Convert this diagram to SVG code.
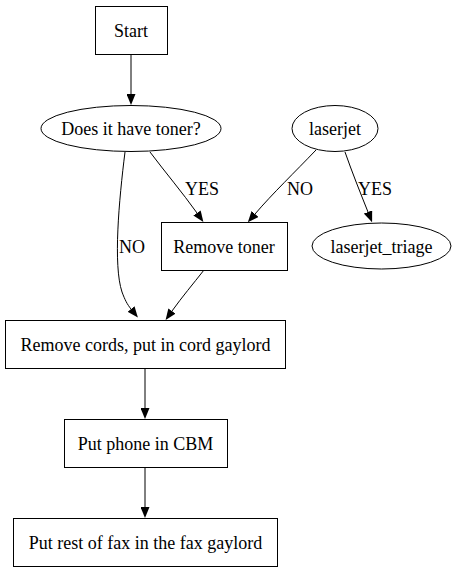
<svg xmlns="http://www.w3.org/2000/svg" width="457" height="571" viewBox="0 0 457 571">
<style>
.n{fill:#fff;stroke:#000;stroke-width:1}
.t{font-family:"Liberation Serif","Times New Roman",serif;font-size:18px;fill:#000;text-anchor:middle}
.e{fill:none;stroke:#000;stroke-width:1}
</style>
<defs>
<marker id="ah" viewBox="0 0 11 9" refX="0" refY="4.5" markerWidth="11" markerHeight="9" markerUnits="userSpaceOnUse" orient="auto">
<path d="M0,0 L11,4.5 L0,9 z" fill="#000"/>
</marker>
</defs>
<rect width="457" height="571" fill="#fff"/>
<g id="edges">
<path class="e" d="M131,54 L131,94" marker-end="url(#ah)"/>
<path class="e" d="M150,152 C165,172 182,192 197,213" marker-end="url(#ah)"/>
<text class="t" x="202" y="195">YES</text>
<path class="e" d="M125,152 C119,200 113,265 122,292 C125,300 127,304 131,309" marker-end="url(#ah)"/>
<text class="t" x="132" y="253">NO</text>
<path class="e" d="M316,150 C295,172 273,193 255,214" marker-end="url(#ah)"/>
<text class="t" x="300" y="195">NO</text>
<path class="e" d="M345,152 C352,172 360,192 368,212" marker-end="url(#ah)"/>
<text class="t" x="375" y="195">YES</text>
<path class="e" d="M204,270 C193,284 182,297 172,311" marker-end="url(#ah)"/>
<path class="e" d="M145,368 L145,408" marker-end="url(#ah)"/>
<path class="e" d="M145,467 L145,507" marker-end="url(#ah)"/>
</g>
<g id="start"><rect class="n" x="95.5" y="6.5" width="72" height="48"/><text class="t" x="131" y="37">Start</text></g>
<g id="toner_q"><ellipse class="n" cx="131" cy="128.5" rx="90" ry="23"/><text class="t" x="131" y="135">Does it have toner?</text></g>
<g id="laserjet"><ellipse class="n" cx="335" cy="128.5" rx="43" ry="23"/><text class="t" x="335" y="135">laserjet</text></g>
<g id="remove_toner"><rect class="n" x="161.5" y="222.5" width="126" height="48"/><text class="t" x="224" y="253">Remove toner</text></g>
<g id="laserjet_triage"><ellipse class="n" cx="381.5" cy="246" rx="69.5" ry="23"/><text class="t" x="381.5" y="253">laserjet_triage</text></g>
<g id="remove_cords"><rect class="n" x="5.5" y="320.5" width="280" height="48"/><text class="t" x="145.5" y="351">Remove cords, put in cord gaylord</text></g>
<g id="phone"><rect class="n" x="64.5" y="419.5" width="163" height="48"/><text class="t" x="145.5" y="450">Put phone in CBM</text></g>
<g id="rest"><rect class="n" x="13.5" y="518.5" width="264" height="48"/><text class="t" x="145.5" y="549">Put rest of fax in the fax gaylord</text></g>
</svg>
